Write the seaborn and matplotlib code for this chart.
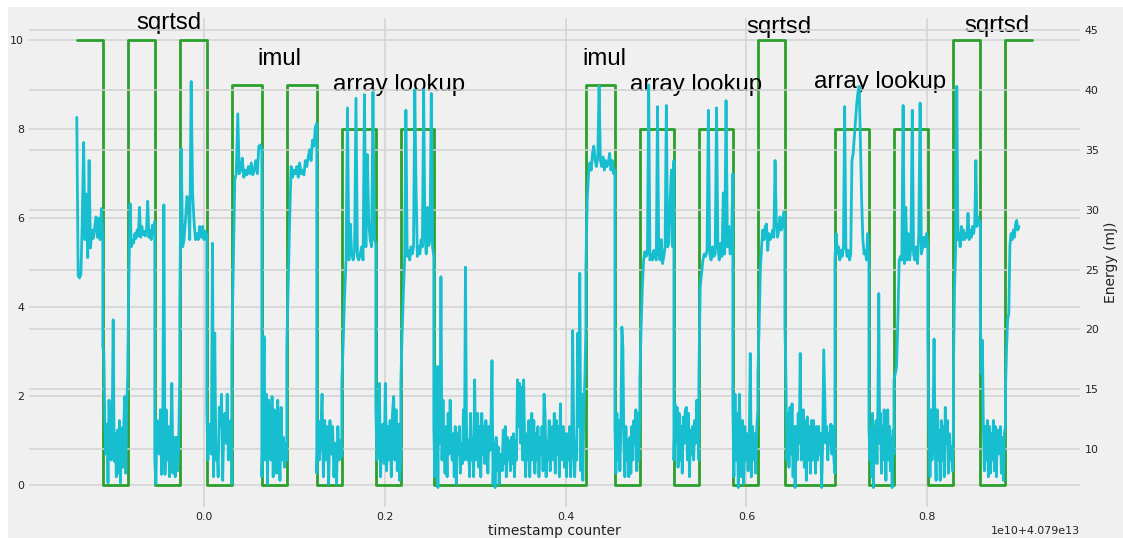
import numpy as np
import matplotlib
matplotlib.use("Agg")
import matplotlib.pyplot as plt
from matplotlib.patches import Rectangle
import seaborn as sns

# Timestamps are stored in units of 1e10 cycles relative to 4.079e13
TS_BASE = 4.079e13
TS_UNIT = 1e10

# Instruction phase edges (timestamp counter) and the level drawn for each phase
phase_edges = [-0.1411, -0.1123, -0.0847, -0.0548, -0.0271, 0.0028, 0.0304, 0.0637,
               0.0913, 0.1245, 0.1522, 0.1898, 0.2175, 0.2540, 0.4223, 0.4544,
               0.4820, 0.5197, 0.5473, 0.5849, 0.6126, 0.6425, 0.6979, 0.7355,
               0.7632, 0.8008, 0.8290, 0.8588, 0.8865, 0.9162]
phase_levels = [10, 0, 10, 0, 10, 0, 9, 0, 9, 0, 8, 0, 8, 0, 9, 0, 8, 0, 8, 0,
                10, 0, 8, 0, 8, 0, 10, 0, 10]
energy_end = 0.9015

# Energy samples (mJ) recorded during each phase
e_sqrt1 = [37.7, 24.5, 24.3, 24.6, 29.0, 35.6, 27.5, 31.3, 26.0, 34.1, 26.8, 28.3, 27.6,
           28.5, 29.4, 27.7, 29.3, 27.5, 30.1, 27.8]
e_gap1 = [18.5, 18.2, 11.9, 9.6, 12.1, 7.2, 14.1, 10.5, 9.1, 11.9, 20.8, 9.0, 11.3, 7.7,
          11.6, 8.0, 12.4, 7.2, 11.8, 8.5, 11.3, 14.4, 8.0, 13.5, 16.3]
e_sqrt2 = [17.0, 24.4, 30.5, 26.9, 27.4, 27.2, 28.0, 27.6, 28.3, 27.8, 30.2, 27.7, 28.6,
           27.9, 28.2, 27.8, 28.4, 30.7, 27.7, 28.3, 27.5, 28.7, 28.0, 29.0]
e_gap2 = [9.2, 7.1, 12.4, 11.6, 9.6, 13.3, 7.9, 10.7, 30.4, 7.9, 13.3, 9.1, 11.9, 7.7,
          10.7, 15.5, 8.0, 11.0, 7.7, 11.0, 8.2, 10.2, 16.3]
e_sqrt3 = [22.0, 35.1, 26.9, 27.5, 29.1, 31.1, 30.8, 27.5, 40.7, 31.4, 29.1, 27.5, 28.0,
           27.5, 28.6, 27.7, 28.6, 27.5, 28.2, 27.9]
e_gap3 = [13.3, 9.1, 12.1, 11.9, 9.6, 27.2, 7.7, 19.7, 9.1, 10.2, 7.7, 13.5, 11.9, 14.6,
          7.4, 11.9, 13.0, 10.5, 14.6, 9.1, 11.9, 12.4, 7.1]
e_imul1 = [18.5, 25.0, 32.5, 33.0, 38.0, 33.0, 33.3, 34.3, 32.7, 33.3, 32.9, 33.6, 33.0,
           33.9, 32.9, 33.3, 34.1, 33.0, 35.3, 35.4, 35.0]
e_gap4 = [7.7, 11.9, 19.4, 9.1, 14.6, 7.1, 14.1, 11.9, 9.1, 14.4, 7.7, 13.3, 11.9, 8.0,
          14.1, 10.5, 7.4, 13.5, 9.1, 11.0, 8.5, 10.5, 9.1]
e_imul2 = [18.5, 24.0, 29.1, 33.6, 32.7, 33.3, 33.0, 33.6, 32.7, 33.9, 33.0, 33.3, 32.9,
           34.1, 33.6, 34.4, 35.0, 34.1, 35.8, 35.3, 36.9, 37.2]
e_gap5 = [8.0, 12.4, 9.1, 11.0, 14.6, 7.7, 12.4, 9.1, 11.9, 7.1, 12.4, 9.6, 11.9, 7.7,
          10.5, 7.1, 11.9, 9.1, 10.7, 9.4]
e_arr1 = [15.7, 19.0, 23.0, 25.8, 38.5, 25.8, 28.8, 26.3, 25.8, 26.6, 39.3, 26.1, 25.8,
          26.3, 26.9, 25.8, 39.6, 26.9, 34.6, 29.1, 27.5, 26.9, 39.8, 27.5, 27.2]
e_gap6 = [13.5, 9.1, 11.3, 15.5, 7.7, 11.9, 12.1, 8.8, 15.5, 8.2, 11.9, 9.1, 12.4, 7.7,
          13.0, 14.4, 9.1, 13.3, 8.2, 12.1, 7.4, 9.1]
e_arr2 = [15.5, 19.6, 23.0, 25.8, 38.3, 26.1, 26.6, 25.8, 26.9, 26.3, 26.9, 40.0, 31.9,
          26.1, 26.9, 26.3, 27.5, 26.9, 40.0, 28.0, 26.3, 30.2, 27.0, 27.5, 39.7, 26.9, 26.1]
e_gap7 = [11.9, 7.7, 11.9, 16.9, 6.8, 16.9, 10.5, 24.4, 9.1, 14.1, 10.5, 8.0, 11.9, 7.7,
          13.0, 9.6, 14.1, 10.5, 9.1, 11.3, 7.7, 11.9, 7.1, 11.3, 9.6, 11.9, 8.0, 10.5,
          8.8, 13.3, 9.1, 25.2, 11.9, 9.1, 10.7, 7.7, 13.0, 9.1, 11.0, 7.7, 15.8, 9.1,
          10.7, 13.0, 8.5, 11.9, 7.7, 13.0, 9.6, 11.9, 8.8, 12.4, 10.5, 8.0, 11.9, 9.9,
          11.9, 17.4, 7.1, 10.5, 6.8, 11.0, 8.2, 10.2, 7.1, 9.4, 9.6, 8.2, 11.6, 8.8,
          11.9, 7.7, 11.0, 9.1, 10.7, 8.2, 11.0, 8.8, 11.3, 7.7, 10.7, 9.1, 15.8, 11.9,
          15.5, 10.5, 15.2, 9.1, 15.8, 10.5, 7.7, 11.3, 9.1, 12.4, 7.7, 11.0, 13.0, 9.1,
          12.4, 8.0, 11.3, 9.1, 11.9, 7.7, 11.0, 9.6, 11.9, 8.2, 14.6, 13.0, 7.7, 10.7,
          9.1, 12.4, 8.2, 11.0, 11.9, 9.1, 13.0, 8.0, 12.4, 9.6, 11.9, 7.7, 13.8, 9.1,
          10.5, 11.9, 8.5, 11.3, 7.7, 11.3, 9.1, 11.9, 7.7, 9.6, 19.9, 11.9, 7.7, 10.7,
          9.1, 19.7, 11.9, 24.7, 8.2, 14.6, 7.4, 13.5, 15.8, 20.2]
e_imul3 = [25.2, 30.8, 33.0, 33.9, 33.3, 34.7, 35.3, 34.1, 33.6, 34.4, 40.3, 34.1, 33.6,
           34.4, 33.3, 34.1, 33.6, 33.9, 34.7, 33.3, 34.1, 33.0, 33.3]
e_gap8 = [11.9, 8.0, 13.0, 9.1, 12.4, 8.2, 11.9, 20.2, 18.5, 10.5, 7.7, 11.9, 9.1, 10.7,
          7.7, 11.0, 8.0, 11.9, 9.1, 12.4, 10.5, 13.3, 8.2, 13.0, 9.1, 13.3]
e_arr3 = [15.8, 20.2, 23.6, 25.8, 26.5, 26.1, 26.3, 40.4, 25.8, 26.3, 25.8, 26.6, 26.1,
          25.8, 38.6, 26.3, 25.8, 27.5, 25.5, 26.1, 26.9, 38.7, 26.9, 27.2, 30.8, 33.3,
          26.9, 34.1]
e_gap9 = [9.1, 13.8, 10.5, 13.5, 8.5, 13.0, 9.1, 11.9, 8.0, 12.7, 10.5, 13.3, 13.5, 9.1,
          13.0, 7.7, 11.6, 9.6, 11.9, 9.1, 12.4, 10.5, 14.1, 11.9, 9.1]
e_arr4 = [15.8, 23.6, 24.7, 25.8, 26.3, 26.1, 26.6, 38.3, 26.3, 25.8, 26.9, 26.1, 26.3,
          38.5, 26.9, 25.8, 27.2, 26.1, 31.4, 26.3, 39.1, 26.9, 28.6, 26.3, 26.9, 33.0]
e_gap10 = [13.5, 7.7, 14.6, 9.1, 13.0, 6.8, 14.6, 10.5, 7.7, 12.4, 7.1, 11.9, 9.1, 11.3,
           8.2, 10.5, 18.0, 7.7, 11.9, 9.1, 11.3, 8.0, 11.9, 13.3]
e_sqrt4 = [16.3, 20.2, 24.9, 26.9, 28.3, 27.5, 28.6, 28.8, 26.6, 28.0, 27.5, 27.7, 28.3,
           27.7, 34.1, 29.1, 27.7, 28.3, 29.4, 28.3, 28.6, 29.8, 29.7]
e_gap11 = [20.5, 16.0, 9.1, 13.0, 8.5, 13.5, 9.6, 13.8, 7.7, 11.9, 6.8, 11.9, 9.1, 13.0,
           10.5, 18.0, 9.1, 10.5, 13.3, 8.5, 12.4, 7.4, 12.7, 9.1, 11.9, 8.0, 12.4, 9.1,
           12.4, 10.5, 8.0, 11.9, 9.1, 11.9, 9.6, 11.3, 6.8, 10.5, 18.3, 14.6, 10.5, 11.9,
           9.1, 11.3, 10.5, 12.1, 9.6, 11.9, 9.1, 8.0]
e_arr5 = [25.8, 28.0, 26.3, 26.9, 25.8, 26.6, 26.1, 26.9, 38.6, 26.9, 26.1, 26.6, 25.8,
          26.3, 34.1, 34.7, 36.1, 37.5, 38.9, 39.8, 40.3, 35.5, 30.8, 27.5, 26.3, 26.6,
          25.8, 28.0, 25.8]
e_gap12 = [11.9, 9.1, 11.6, 7.7, 13.0, 6.8, 11.9, 9.1, 12.4, 8.8, 13.5, 23.0, 10.5, 13.0,
           8.0, 11.9, 9.1, 13.3, 10.5, 7.4, 11.3, 13.3, 9.1, 11.9, 8.2, 11.0, 6.8, 11.6, 9.6]
e_arr6 = [15.8, 16.3, 16.9, 20.8, 25.8, 26.1, 25.8, 38.7, 25.5, 30.2, 25.8, 28.0, 25.8,
          26.9, 38.3, 26.3, 25.8, 26.9, 25.5, 28.0, 38.9, 26.3, 26.9, 27.7, 26.9, 28.0, 26.9]
e_gap13 = [19.4, 11.9, 7.7, 13.3, 9.1, 11.9, 19.2, 10.5, 7.4, 13.3, 9.1, 11.6, 7.4, 12.4,
           9.1, 11.9, 7.7, 13.5, 10.5, 12.4, 8.0, 11.3, 9.1, 10.2, 8.2, 11.9]
e_sqrt5 = [16.6, 23.6, 26.9, 40.3, 27.5, 28.0, 26.9, 28.6, 27.5, 28.3, 27.5, 28.0, 27.7,
           29.7, 27.5, 28.3, 27.7, 28.6, 28.0, 28.8, 34.1, 28.6, 29.4, 29.1, 28.8]
e_gap14 = [21.0, 16.3, 19.1, 12.1, 8.2, 11.9, 9.1, 12.4, 7.7, 11.9, 8.0, 11.3, 9.1, 12.4,
           8.2, 11.9, 7.7, 11.6, 9.6, 11.0, 11.9, 8.0, 11.0, 7.4, 11.3, 11.9]
e_sqrt6 = [14.6, 18.3, 20.8, 21.3, 27.0, 28.0, 27.5, 28.3, 27.7, 28.8, 29.1, 28.3, 28.6]

# Instruction names written above the phases
label_text = ["sqrtsd", "imul", "array lookup", "imul", "array lookup", "sqrtsd",
              "array lookup", "sqrtsd"]
label_x = [-0.0387, 0.0836, 0.2153, 0.4422, 0.5442, 0.6364, 0.7482, 0.8777]
label_y = [10.25, 9.44, 8.86, 9.44, 8.86, 10.16, 8.93, 10.19]

energy_phases = [e_sqrt1, e_gap1, e_sqrt2, e_gap2, e_sqrt3, e_gap3, e_imul1, e_gap4,
                 e_imul2, e_gap5, e_arr1, e_gap6, e_arr2, e_gap7, e_imul3, e_gap8,
                 e_arr3, e_gap9, e_arr4, e_gap10, e_sqrt4, e_gap11, e_arr5, e_gap12,
                 e_arr6, e_gap13, e_sqrt5, e_gap14, e_sqrt6]

BG = "#f0f0f0"
sns.set_theme(style="darkgrid", rc={
    "axes.facecolor": BG,
    "figure.facecolor": "white",
    "grid.color": "#d2d2d2",
    "grid.linewidth": 1.1,
    "axes.edgecolor": BG,
    "xtick.major.size": 0,
    "ytick.major.size": 0,
    "xtick.labelsize": 7.9,
    "ytick.labelsize": 7.9,
    "axes.labelsize": 10,
    "text.color": "#222222",
    "xtick.color": "#222222",
    "ytick.color": "#222222",
    "axes.labelcolor": "#222222",
})
plt.rcParams["font.family"] = ["DejaVu Sans"]

W, H = 1123, 538
fig = plt.figure(figsize=(W / 100, H / 100), dpi=100)
fig.add_artist(Rectangle((8 / W, 0), 1 - 8 / W, 1 - 7 / H, transform=fig.transFigure,
                         facecolor=BG, edgecolor="none", zorder=-10))
ax = fig.add_axes([29 / W, 1 - 507.25 / H, (1080 - 29) / W, (507.25 - 17.75) / H])

# Phase indicator as a step line on the left axis
edges = np.asarray(phase_edges)
step_x = TS_BASE + TS_UNIT * edges
step_y = phase_levels + [phase_levels[-1]]
sns.lineplot(x=step_x, y=step_y, ax=ax, color="#2ca02c", linewidth=2.0,
             drawstyle="steps-post", estimator=None, sort=False)

# Energy trace on the right axis: samples spread evenly within each phase
seg_start = edges[:-1]
seg_end = np.append(edges[1:-1], energy_end)
e_x, e_y = [], []
for vals, a, b in zip(energy_phases, seg_start, seg_end):
    e_x.append(np.linspace(a, b, len(vals)))
    e_y.extend(vals)
e_x = TS_BASE + TS_UNIT * np.concatenate(e_x)

ax2 = ax.twinx()
sns.lineplot(x=e_x, y=np.asarray(e_y), ax=ax2, color="#17becf", linewidth=2.0,
             estimator=None, sort=False)

ax.set_ylim(-0.5, 10.5)
ax2.set_ylim(5.16, 46.02)
ax.set_xlabel("timestamp counter", labelpad=1.5)
ax.set_ylabel("")
ax2.set_ylabel("Energy (mJ)")
ax2.grid(True)
for a in (ax, ax2):
    for s in a.spines.values():
        s.set_visible(False)

for txt, lx, ly in zip(label_text, label_x, label_y):
    ax.text(TS_BASE + TS_UNIT * lx, ly, txt, ha="center", va="baseline",
            fontsize=17.3, family="Liberation Sans", color="black")

fig.savefig("out.png", dpi=100)
